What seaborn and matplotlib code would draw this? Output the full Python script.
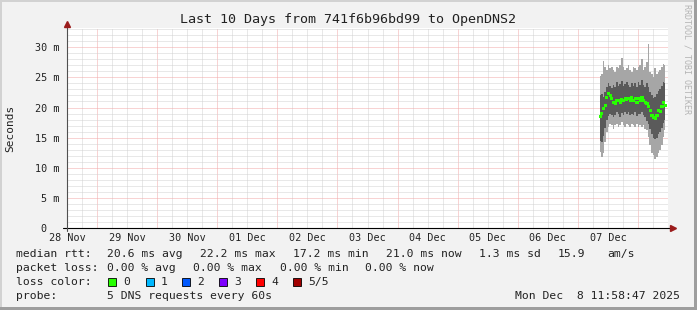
import numpy as np
import pandas as pd
import matplotlib
matplotlib.use("Agg")
import matplotlib.pyplot as plt
import seaborn as sns
from matplotlib.patches import Rectangle
from matplotlib.ticker import MultipleLocator
from matplotlib.transforms import blended_transform_factory

# ---------------- data ----------------
# hours since 28 Nov 00:00
hours = [224.9, 225.6, 226.2, 226.9, 227.6, 228.2, 228.9, 229.6, 230.2, 230.9,
         231.6, 232.2, 232.9, 233.6, 234.2, 234.9, 235.6, 236.2, 236.9, 237.6,
         238.2, 238.9, 239.6, 240.2, 240.9, 241.6, 242.2, 242.9, 243.6, 244.2,
         244.9, 245.6, 246.2, 246.9, 247.6, 248.2, 248.9, 249.6, 250.2, 250.9]
rtt_min = [12.6, 11.8, 12.5, 14.3, 16.0, 16.8, 17.3, 17.1, 16.5, 17.1,
           17.3, 16.8, 17.1, 17.6, 17.1, 16.8, 17.3, 17.1, 16.8, 17.3,
           17.1, 16.8, 17.3, 16.8, 17.1, 16.8, 17.1, 16.5, 16.2, 15.1,
           13.7, 12.4, 12.1, 11.5, 11.8, 12.4, 12.9, 13.7, 15.1, 16.2]
rtt_lo = [14.4, 14.2, 15.2, 16.6, 18.0, 18.6, 19.0, 18.8, 18.4, 18.7,
          19.2, 18.9, 18.5, 19.1, 18.8, 19.2, 18.9, 19.3, 18.7, 19.0,
          18.8, 19.2, 18.6, 19.0, 18.9, 19.3, 18.7, 18.4, 17.8, 17.2,
          16.4, 15.6, 15.0, 14.7, 15.0, 15.6, 16.0, 16.6, 17.4, 18.0]
rtt_median = [18.5, 19.0, 19.9, 20.4, 21.7, 22.3, 22.0, 21.5, 20.9, 20.7,
              21.1, 21.2, 20.9, 21.3, 21.2, 21.5, 21.4, 21.5, 21.2, 21.7,
              21.2, 21.5, 20.9, 21.5, 21.2, 21.7, 21.2, 20.9, 20.6, 20.1,
              19.5, 18.7, 18.4, 18.2, 18.7, 19.5, 19.3, 20.1, 20.9, 20.4]
rtt_hi = [22.0, 22.3, 21.8, 22.6, 23.4, 24.0, 23.6, 23.2, 23.8, 23.4,
          24.2, 23.5, 23.9, 24.4, 23.6, 23.9, 24.3, 23.7, 23.4, 24.1,
          23.6, 24.0, 23.4, 24.2, 23.8, 24.5, 23.7, 23.4, 24.0, 23.4,
          22.6, 22.0, 21.6, 21.8, 22.2, 22.8, 23.0, 23.6, 24.2, 24.0]
rtt_max = [25.3, 25.6, 27.8, 26.7, 26.2, 27.0, 26.5, 26.7, 26.2, 25.9,
           26.7, 26.5, 27.0, 28.3, 26.7, 26.2, 26.5, 27.0, 26.2, 25.9,
           26.7, 26.5, 26.2, 26.7, 27.0, 28.0, 26.2, 26.7, 27.5, 30.6,
           25.9, 25.6, 25.0, 26.5, 25.6, 25.9, 26.2, 26.7, 27.3, 27.0]

day_labels = ["28 Nov", "29 Nov", "30 Nov", "01 Dec", "02 Dec",
              "03 Dec", "04 Dec", "05 Dec", "06 Dec", "07 Dec"]
y_ticks = [0, 5, 10, 15, 20, 25, 30]
y_tick_labels = ["0  ", "5 m", "10 m", "15 m", "20 m", "25 m", "30 m"]

title = "Last 10 Days from 741f6b96bd99 to OpenDNS2"
y_label = "Seconds"
watermark = "RRDTOOL / TOBI OETIKER"

rtt_row = ["median rtt:", "20.6 ms avg", "22.2 ms max", "17.2 ms min",
           "21.0 ms now", "1.3 ms sd", "15.9", "am/s"]
loss_row = ["packet loss:", "0.00 % avg", "0.00 % max", "0.00 % min", "0.00 % now"]
loss_title = "loss color:"
loss_labels = ["0", "1", "2", "3", "4", "5/5"]
loss_colors = ["#26ff00", "#00b8ff", "#0059ff", "#7e00ff", "#ff0000", "#a10000"]
probe_row = ["probe:", "5 DNS requests every 60s"]
timestamp = "Mon Dec  8 11:58:47 2025"

# ---------------- figure ----------------
sns.set_theme(style="white")
plt.rcParams['font.family'] = ['DejaVu Sans Mono']

W, H = 697, 310
fig = plt.figure(figsize=(W / 100, H / 100), dpi=100, facecolor="#f2f2f2")
ax = fig.add_axes([67 / W, (H - 228) / H, 601 / W, 200 / H])
ax.set_facecolor("white")

df = pd.DataFrame({"hours": hours, "rtt_min": rtt_min, "rtt_lo": rtt_lo,
                   "median": rtt_median, "rtt_hi": rtt_hi, "rtt_max": rtt_max})

ax.fill_between(df["hours"], df["rtt_min"], df["rtt_max"], step="mid",
                color="#a6a6a6", lw=0, zorder=2)
ax.fill_between(df["hours"], df["rtt_lo"], df["rtt_hi"], step="mid",
                color="#5a5a5a", lw=0, zorder=3)
sns.scatterplot(data=df, x="hours", y="median", marker="s", s=5,
                color="#26ff00", edgecolor="none", linewidth=0,
                ax=ax, zorder=4, legend=False)

ax.set_xlim(12, 252)
ax.set_ylim(0, 33.2)
ax.set_xlabel("")
ax.set_ylabel("")

ax.xaxis.set_major_locator(MultipleLocator(24))
ax.xaxis.set_minor_locator(MultipleLocator(6))
ax.set_yticks(y_ticks, y_tick_labels)
ax.yaxis.set_minor_locator(MultipleLocator(1))

ax.grid(which="major", color="#f2a8a8", lw=0.72, ls=(0, (1, 1)))
ax.grid(which="minor", color="#d2d2d2", lw=0.72, ls=(0, (1, 1)))
ax.set_axisbelow(True)

for s in ax.spines.values():
    s.set_visible(False)

ax.tick_params(axis="both", which="major", length=2.2, width=0.7,
               color="#e07070", direction="out")
ax.tick_params(axis="both", which="minor", length=1.5, width=0.7,
               color="#aaaaaa", direction="out")
ax.tick_params(axis="x", labelbottom=False)
ax.tick_params(axis="y", labelsize=7.3, pad=3, labelcolor="#222222")

# axes lines + arrows
ax.plot([-0.006, 1.006], [0, 0], transform=ax.transAxes, color="black",
        lw=0.8, clip_on=False, zorder=6)
ax.plot([0, 0], [-0.015, 1.02], transform=ax.transAxes, color="#505050",
        lw=0.8, clip_on=False, zorder=6)
ax.plot([1.008], [0], marker=">", ms=4.5, color="#9b1c1c",
        transform=ax.transAxes, clip_on=False, zorder=7)
ax.plot([0], [1.022], marker="^", ms=4.5, color="#9b1c1c",
        transform=ax.transAxes, clip_on=False, zorder=7)

# day labels at noon
trans = blended_transform_factory(ax.transData, ax.transAxes)
for i, lab in enumerate(day_labels):
    ax.text(12 + 24 * i, -10 / 200, lab, transform=trans, ha="center",
            va="center", fontsize=7.3, color="#222222", clip_on=False)


def fx(x):
    return x / W


def fy(y):
    return 1 - y / H


fig.text(fx(348.5), fy(20), title, ha="center", va="center",
         fontsize=9.6, color="#222222")
fig.text(fx(10.5), fy(128), y_label, ha="center", va="center",
         rotation=90, fontsize=8, color="#222222")
fig.text(fx(687), fy(59), watermark, ha="center", va="center",
         rotation=270, fontsize=6, color="#b4b4b4")

fs = 8.2
tc = "#222222"
rtt_x = [16, 107, 200, 293, 386, 479, 558, 607]
for x, t in zip(rtt_x, rtt_row):
    fig.text(fx(x), fy(254), t, ha="left", va="center", fontsize=fs, color=tc)
loss_x = [16, 107, 193, 280, 365]
for x, t in zip(loss_x, loss_row):
    fig.text(fx(x), fy(268), t, ha="left", va="center", fontsize=fs, color=tc)
fig.text(fx(16), fy(282), loss_title, ha="left", va="center", fontsize=fs, color=tc)
box_x = [108, 146, 182, 219, 256, 293]
for x, lab, col in zip(box_x, loss_labels, loss_colors):
    fig.add_artist(Rectangle((fx(x), fy(286)), 8 / W, 8 / H,
                             transform=fig.transFigure, facecolor=col,
                             edgecolor="black", lw=0.6))
    fig.text(fx(x + 15), fy(282), lab, ha="left", va="center",
             fontsize=fs, color=tc)
probe_x = [16, 107]
for x, t in zip(probe_x, probe_row):
    fig.text(fx(x), fy(296), t, ha="left", va="center", fontsize=fs, color=tc)
fig.text(fx(680), fy(296), timestamp, ha="right", va="center",
         fontsize=fs, color=tc)

# frame (3d-ish border)
fig.add_artist(Rectangle((0, 1 - 2 / H), 1, 2 / H, transform=fig.transFigure,
                         color="#d2d2d2", lw=0))
fig.add_artist(Rectangle((0, 0), 2 / W, 1, transform=fig.transFigure,
                         color="#d2d2d2", lw=0))
fig.add_artist(Rectangle((0, 0), 1, 3 / H, transform=fig.transFigure,
                         color="#9e9e9e", lw=0))
fig.add_artist(Rectangle((1 - 3 / W, 0), 3 / W, 1, transform=fig.transFigure,
                         color="#9e9e9e", lw=0))

fig.savefig("out.png", dpi=100, facecolor=fig.get_facecolor())
